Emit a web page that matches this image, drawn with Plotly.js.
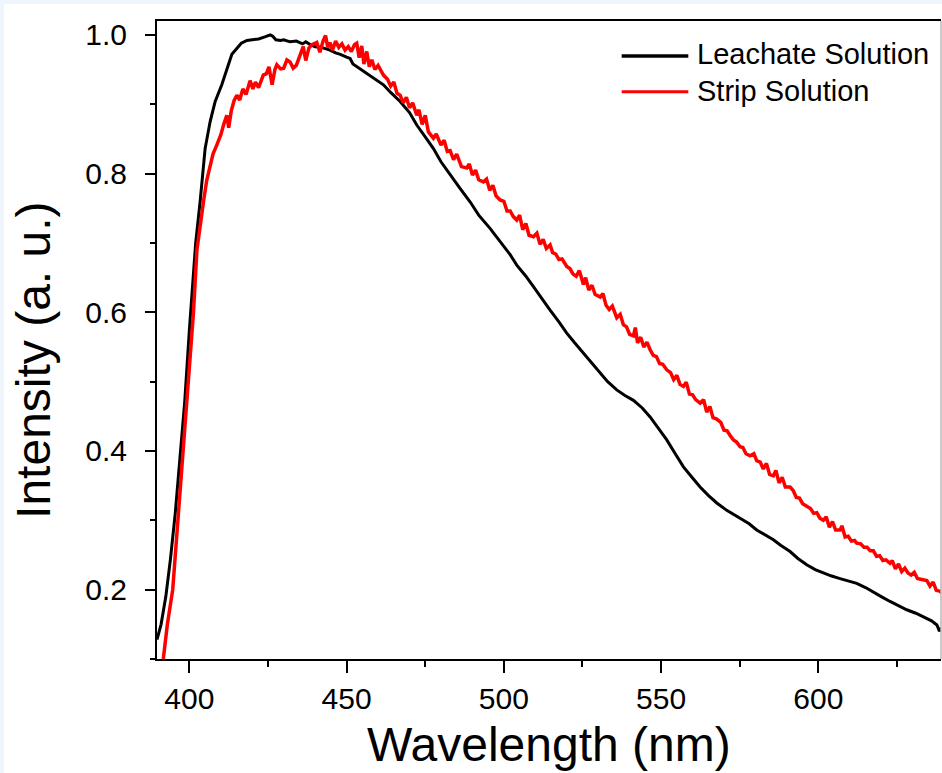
<!DOCTYPE html>
<html>
<head>
<meta charset="utf-8">
<script src="https://cdn.plot.ly/plotly-3.0.1.min.js"></script>
<style>
  html, body { margin: 0; padding: 0; background: #eef5fc; width: 942px; height: 773px; overflow: hidden; }
  #chart { position: absolute; left: 4px; top: 4px; width: 938px; height: 769px; background: #ffffff; }
</style>
</head>
<body>
<div id="chart"></div>
<script>
// Leachate Solution (black)
const leachWl = [389.7,391,392.5,394,395.5,397,398.5,400,401,402,403.4,404.2,405,406.6,408.2,410.3,412,413.5,415,416.5,418.3,420,422,424,425.7,426.5,427.5,429,430,432,434,436,437,438.4,440,442,444.7,446.5,448,450,451.1,452,454,456.4,459,461.7,464,467,470,472.3,475,477.6,480,482.9,486,489.3,492,495.6,498.8,502,504.1,507,509.4,512,514.7,517.5,520,522.5,525.3,528,530.6,533,535.9,538.5,541.2,544,546.5,549,551.8,554.5,557.1,560,562.4,565,567.7,571,575.1,578,580.4,583,585.7,588,591,593.5,596.3,599,601.6,604,606.9,609.5,612.2,615,617.5,620,622.8,625.5,628.1,631,633.4,636,637.7,638.5,639];
const leachI = [0.128,0.15,0.19,0.245,0.31,0.39,0.47,0.575,0.64,0.70,0.759,0.80,0.836,0.875,0.904,0.928,0.952,0.972,0.980,0.988,0.992,0.993,0.994,0.997,1.000,0.998,0.993,0.992,0.993,0.990,0.991,0.987,0.990,0.986,0.983,0.982,0.978,0.974,0.972,0.968,0.966,0.958,0.952,0.944,0.936,0.928,0.917,0.904,0.888,0.870,0.853,0.836,0.817,0.798,0.779,0.759,0.740,0.721,0.702,0.683,0.668,0.652,0.637,0.620,0.603,0.586,0.570,0.556,0.541,0.526,0.512,0.500,0.488,0.480,0.473,0.462,0.449,0.434,0.416,0.396,0.377,0.361,0.348,0.336,0.325,0.314,0.303,0.295,0.286,0.279,0.272,0.264,0.255,0.245,0.236,0.229,0.224,0.220,0.216,0.213,0.209,0.203,0.197,0.190,0.183,0.177,0.171,0.166,0.161,0.155,0.149,0.140,0.145];

// Strip Solution (red)
const stripWl = [391.7,393,394.7,396,397.5,399,400.3,401.3,402.4,403.5,404.5,405.5,406.6,407.5,408.7,410,411,411.9,412.5,413.3,414.2,415.1,416,417,418,419.3,420.2,421,422,423.5,424.5,425.3,426.3,427.2,427.8,429,430,431,432,433,434,435,436.2,437,438,439,440.5,441.5,442.5,443.3,444,444.7,445.5,446.5,447.5,448.5,449.5,450.5,451.5,452.5,453.2,454,454.8,455.5,456.4,457.2,458,459,460,461.7,463,464,465,466,467,468,469,470,471,472.3,473,474,475,476,477.6,478.5,480,481,482,482.9,484,485,486.5,488.2,489,490,491,492,493.5,494.5,495.5,496.5,497.5,498.8,500,501,502,503,504.1,505,506,507,508,509.4,510.5,511.5,512.5,513.5,514.7,515.5,516.5,517.5,518.5,520,521,522,523,524,525.3,526,527,528,529,530.6,531.5,532.5,533.5,534.5,535.9,537,538,539,540,541.2,541.8,542.5,543.5,544.5,545.5,546.5,547.5,548.5,549.5,550.5,551.8,553,554,555,556,557.1,558,559,560,561,562.4,563.5,564.5,565.5,566.5,567.7,569,570,571,572,573,574,575.1,576,577,578.3,579.5,580.4,581.5,582.5,583.5,584.5,585.7,586.5,587.5,588.5,589.5,591,592,593,594,595,596.3,597.5,598.5,599.5,600.5,601.6,602.5,603.5,604.5,605.5,606.9,607.5,608.5,609.5,610.5,611.5,612.2,613.5,614.5,615.5,616.5,617.5,618.5,619.5,620.5,621.5,622.8,623.5,624.5,625.5,626.5,627.5,628.5,629.5,630.5,631.5,632.5,633.4,634.5,635.5,636.5,637.5,638.5,639.5];
const stripI = [0.10,0.15,0.20,0.28,0.37,0.46,0.54,0.60,0.69,0.73,0.76,0.79,0.812,0.828,0.841,0.856,0.872,0.884,0.866,0.890,0.905,0.913,0.906,0.922,0.914,0.934,0.922,0.932,0.924,0.942,0.944,0.954,0.928,0.950,0.957,0.951,0.952,0.964,0.961,0.952,0.956,0.970,0.983,0.963,0.981,0.986,0.989,0.975,0.991,0.999,0.982,0.989,0.978,0.991,0.982,0.987,0.978,0.983,0.976,0.986,0.988,0.967,0.984,0.958,0.976,0.954,0.964,0.950,0.956,0.942,0.936,0.926,0.932,0.916,0.913,0.902,0.910,0.895,0.902,0.884,0.892,0.871,0.884,0.860,0.851,0.857,0.841,0.848,0.832,0.833,0.820,0.828,0.810,0.808,0.814,0.798,0.805,0.791,0.788,0.792,0.776,0.783,0.768,0.762,0.760,0.746,0.746,0.738,0.733,0.740,0.719,0.728,0.711,0.709,0.714,0.698,0.705,0.692,0.697,0.686,0.684,0.676,0.677,0.666,0.663,0.655,0.652,0.660,0.640,0.650,0.632,0.639,0.626,0.622,0.627,0.610,0.604,0.609,0.592,0.597,0.582,0.579,0.568,0.566,0.578,0.556,0.564,0.550,0.557,0.546,0.538,0.536,0.526,0.525,0.517,0.513,0.503,0.509,0.496,0.493,0.499,0.482,0.481,0.474,0.469,0.474,0.456,0.464,0.448,0.446,0.441,0.430,0.429,0.422,0.416,0.413,0.406,0.405,0.396,0.393,0.396,0.386,0.384,0.374,0.382,0.366,0.364,0.372,0.354,0.362,0.348,0.348,0.343,0.333,0.332,0.324,0.320,0.317,0.310,0.311,0.303,0.300,0.305,0.290,0.298,0.286,0.286,0.292,0.276,0.277,0.270,0.271,0.267,0.266,0.261,0.261,0.256,0.256,0.248,0.249,0.242,0.243,0.238,0.242,0.230,0.237,0.226,0.231,0.224,0.221,0.225,0.216,0.215,0.214,0.213,0.205,0.211,0.199,0.198,0.195];

const seriesNames = ["Leachate Solution", "Strip Solution"];
const seriesColors = ["#000000", "#ff0000"];
const xTickVals = [400, 450, 500, 550, 600];
const yTickVals = [0.2, 0.4, 0.6, 0.8, 1.0];
const xTitle = "Wavelength (nm)";
const yTitle = "Intensity (a. u.)";

const FONT = "Liberation Sans, Arial, sans-serif";

const traces = [
  { x: leachWl, y: leachI, type: "scatter", mode: "lines", name: seriesNames[0],
    line: { color: seriesColors[0], width: 3 }, showlegend: false },
  { x: stripWl, y: stripI, type: "scatter", mode: "lines", name: seriesNames[1],
    line: { color: seriesColors[1], width: 3.5 }, showlegend: false }
];

const layout = {
  width: 938, height: 769,
  margin: { l: 153, r: 1, t: 17, b: 114 },
  paper_bgcolor: "#ffffff",
  plot_bgcolor: "#ffffff",
  font: { family: FONT, color: "#000000" },
  showlegend: false,
  xaxis: {
    range: [389.7, 639.0],
    tickvals: xTickVals,
    ticktext: xTickVals.map(String),
    ticks: "outside", ticklen: 12, tickwidth: 2, tickcolor: "#000",
    minor: { dtick: 25, tick0: 400, ticks: "outside", ticklen: 6, tickwidth: 2, tickcolor: "#000" },
    showline: true, linecolor: "#000", linewidth: 2, mirror: true,
    showgrid: false, zeroline: false,
    tickfont: { family: FONT, size: 30, color: "#000" }
  },
  yaxis: {
    range: [0.1, 1.02],
    tickvals: yTickVals,
    ticktext: yTickVals.map(v => v.toFixed(1)),
    ticks: "outside", ticklen: 10, tickwidth: 2, tickcolor: "#000",
    ticklabelstandoff: 12,
    minor: { dtick: 0.1, tick0: 0.1, ticks: "outside", ticklen: 5, tickwidth: 2, tickcolor: "#000" },
    showline: true, linecolor: "#000", linewidth: 2, mirror: false,
    showgrid: false, zeroline: false,
    tickfont: { family: FONT, size: 30, color: "#000" }
  },
  shapes: [
    { type: "line", xref: "paper", yref: "paper", x0: 1, x1: 1, y0: 0, y1: 1,
      line: { color: "#b8b8b8", width: 1.5 } },
    { type: "line", xref: "paper", yref: "paper", x0: 0.5927, x1: 0.6777, y0: 0.9451, y1: 0.9451,
      line: { color: seriesColors[0], width: 3.5 } },
    { type: "line", xref: "paper", yref: "paper", x0: 0.5927, x1: 0.6777, y0: 0.8892, y1: 0.8892,
      line: { color: seriesColors[1], width: 3 } }
  ],
  annotations: [
    { text: seriesNames[0], xref: "paper", yref: "paper", x: 0.6862, y: 0.9483,
      xanchor: "left", yanchor: "middle", showarrow: false,
      font: { family: FONT, size: 29, color: "#000" } },
    { text: seriesNames[1], xref: "paper", yref: "paper", x: 0.6862, y: 0.8903,
      xanchor: "left", yanchor: "middle", showarrow: false,
      font: { family: FONT, size: 29, color: "#000" } },
    { text: xTitle, xref: "paper", yref: "paper", x: 0.5, y: -0.134,
      xanchor: "center", yanchor: "middle", showarrow: false,
      font: { family: FONT, size: 48, color: "#000" } },
    { text: yTitle, xref: "paper", yref: "paper", x: -0.1575, y: 0.468,
      xanchor: "center", yanchor: "middle", showarrow: false, textangle: -90,
      font: { family: FONT, size: 48, color: "#000" } }
  ]
};

Plotly.newPlot("chart", traces, layout, { displayModeBar: false, staticPlot: true });
</script>
</body>
</html>
